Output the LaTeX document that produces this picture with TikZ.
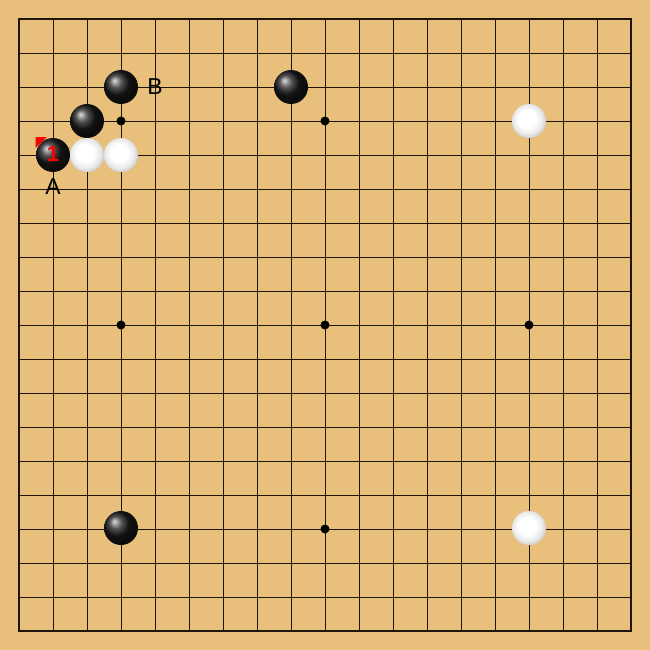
\documentclass[tikz,border=0pt]{standalone}
\usepackage{fontspec}
\setmainfont{Liberation Sans}
\pgfdeclareradialshading{wstoneshade}{\pgfpoint{-4bp}{4bp}}{color(0bp)=(white); color(13bp)=(white); color(22bp)=(black!9); color(28bp)=(black!22); color(50bp)=(black!22)}
\begin{document}
\begin{tikzpicture}[x=1pt,y=-1pt]
\definecolor{wood}{RGB}{232,192,124}
\definecolor{gridc}{RGB}{30,20,10}
\tikzset{
  bstone/.style={circle,minimum size=34pt,inner sep=0pt,ball color=black!90},
  wstone/.style={circle,minimum size=34pt,inner sep=0pt,shading=wstoneshade},
  starpt/.style={circle,fill=black,minimum size=9pt,inner sep=0pt},
  lbl/.style={font=\fontsize{23}{23}\selectfont,text=black,inner sep=0pt},
  movenum/.style={font=\bfseries\fontsize{22}{22}\selectfont,text=red,inner sep=0pt}
}
\useasboundingbox (0,0) rectangle (650,650);
\fill[wood] (0,0) rectangle (650,650);
\foreach \i in {1,...,17} {
  \draw[gridc,line width=0.9pt] (19+34*\i,19) -- (19+34*\i,631);
  \draw[gridc,line width=0.9pt] (19,19+34*\i) -- (631,19+34*\i);
}
\draw[gridc,line width=1.6pt] (19,19) rectangle (631,631);
\foreach \c/\r [count=\k] in {3/3,9/3,3/9,9/9,15/9,9/15} {
  \node[starpt] (star\k) at (19+34*\c,19+34*\r) {};
}
\fill[red] (35.5,137) -- (47,137) -- (35.5,148) -- cycle;
\node[bstone] (b1) at (121,87) {};
\node[bstone] (b2) at (291,87) {};
\node[bstone] (b3) at (87,121) {};
\node[bstone] (b4) at (53,155) {};
\node[bstone] (b5) at (121,528) {};
\node[wstone] (w1) at (87,155) {};
\node[wstone] (w2) at (121,155) {};
\node[wstone] (w3) at (529,121) {};
\node[wstone] (w4) at (529,528) {};
\node[movenum] (n1) at (53,154) {1};
\node[lbl] (lB) at (155,87) {B};
\node[lbl] (lA) at (53,187) {A};
\end{tikzpicture}
\end{document}
